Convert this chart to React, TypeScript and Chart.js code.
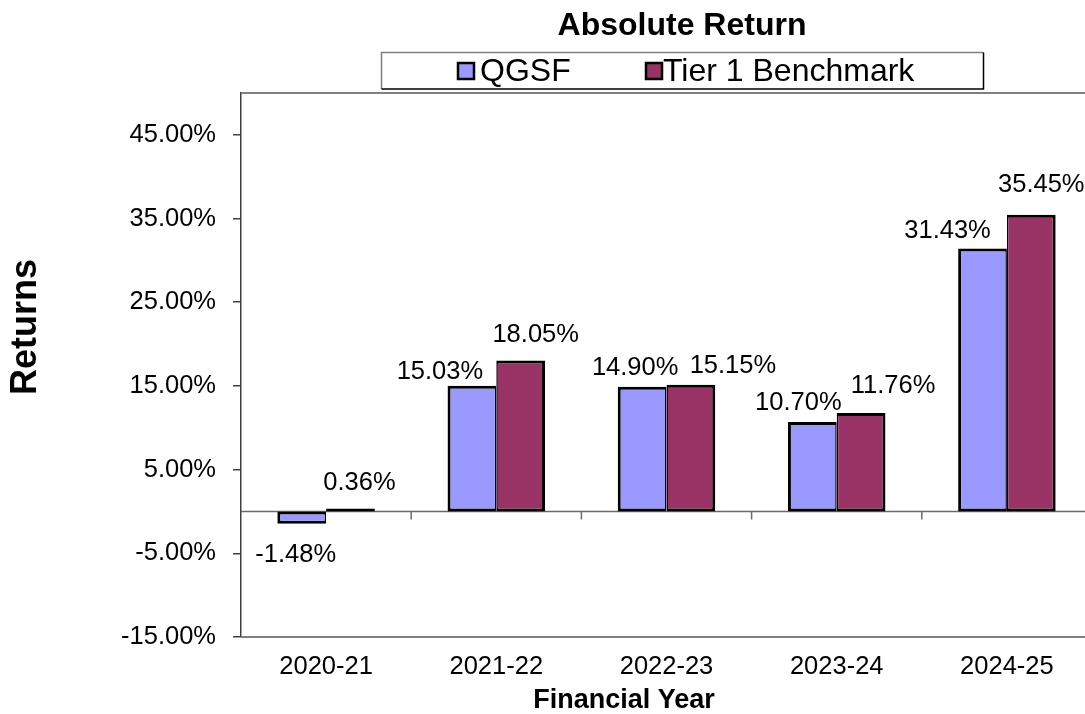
import React, { useEffect, useRef } from "react";
import { Chart, registerables } from "chart.js";

Chart.register(...registerables);

// ---- data ----
const categories = ["2020-21", "2021-22", "2022-23", "2023-24", "2024-25"];
const qgsfValues = [-1.48, 15.03, 14.9, 10.7, 31.43];
const tier1Values = [0.36, 18.05, 15.15, 11.76, 35.45];
const seriesNames = ["QGSF", "Tier 1 Benchmark"];
const yTickValues = [-15, -5, 5, 15, 25, 35, 45];
const chartTitle = "Absolute Return";
const yAxisTitle = "Returns";
const xAxisTitle = "Financial Year";

// ---- styling / layout ----
const FONT = "'Liberation Sans', Arial, Helvetica, sans-serif";
const COLORS = ["#9999FF", "#993366"];
// manual label nudges (dx from bar centre, gap from bar end to baseline)
const LABEL_NUDGE: number[][][] = [
  [[-6, 38], [-32, 7], [-7, 12], [-14, 12], [-35, 10]],
  [[9, 18], [15, 18], [42, 12], [32, 20], [10, 23]],
];

const overlay = {
  id: "overlay",
  beforeDatasetsDraw(chart: any) {
    const { ctx, chartArea, scales } = chart;
    const y0 = scales.y.getPixelForValue(0);
    ctx.save();
    // plot area border (top / right / bottom)
    ctx.strokeStyle = "#808080";
    ctx.lineWidth = 2;
    ctx.beginPath();
    ctx.moveTo(chartArea.left, chartArea.top);
    ctx.lineTo(chartArea.right, chartArea.top);
    ctx.lineTo(chartArea.right, chartArea.bottom);
    ctx.lineTo(chartArea.left, chartArea.bottom);
    ctx.stroke();
    // zero line with category boundary ticks
    ctx.strokeStyle = "#6a6a6a";
    ctx.lineWidth = 1.5;
    ctx.beginPath();
    ctx.moveTo(chartArea.left, y0);
    ctx.lineTo(chartArea.right, y0);
    const xs = scales.x;
    for (let i = 0; i < categories.length; i++) {
      const next =
        i < categories.length - 1
          ? (xs.getPixelForValue(i) + xs.getPixelForValue(i + 1)) / 2
          : chartArea.right;
      ctx.moveTo(next, y0);
      ctx.lineTo(next, y0 + 8);
    }
    ctx.stroke();
    ctx.restore();
  },
  afterDraw(chart: any) {
    const { ctx } = chart;
    ctx.save();
    ctx.fillStyle = "#000";

    // title
    ctx.font = `bold 32px ${FONT}`;
    ctx.textAlign = "center";
    ctx.textBaseline = "alphabetic";
    ctx.fillText(chartTitle, 682, 35);

    // legend box
    ctx.lineWidth = 1.5;
    ctx.strokeStyle = "#808080";
    ctx.beginPath();
    ctx.moveTo(381.5, 89);
    ctx.lineTo(381.5, 52.5);
    ctx.lineTo(983.5, 52.5);
    ctx.stroke();
    ctx.strokeStyle = "#000";
    ctx.beginPath();
    ctx.moveTo(983.5, 52.5);
    ctx.lineTo(983.5, 89);
    ctx.lineTo(381.5, 89);
    ctx.stroke();

    const legendItems = [
      { sx: 458, tx: 480 },
      { sx: 646, tx: 663 },
    ];
    ctx.font = `32px ${FONT}`;
    ctx.textAlign = "left";
    legendItems.forEach((it, i) => {
      ctx.fillStyle = COLORS[i];
      ctx.fillRect(it.sx, 63, 16, 16);
      ctx.strokeStyle = "#000";
      ctx.lineWidth = 2.5;
      ctx.strokeRect(it.sx, 63, 16, 16);
      ctx.fillStyle = "#000";
      ctx.fillText(seriesNames[i], it.tx, 80.5);
    });

    // y axis title
    ctx.save();
    ctx.font = `bold 36px ${FONT}`;
    ctx.translate(36, 327);
    ctx.rotate(-Math.PI / 2);
    ctx.textAlign = "center";
    ctx.fillText(yAxisTitle, 0, 0);
    ctx.restore();

    // x axis title
    ctx.font = `bold 27px ${FONT}`;
    ctx.textAlign = "center";
    ctx.fillText(xAxisTitle, 624, 708);

    // data labels
    ctx.font = `25.5px ${FONT}`;
    ctx.textAlign = "center";
    ctx.fillStyle = "#000";
    chart.data.datasets.forEach((ds: any, d: number) => {
      const meta = chart.getDatasetMeta(d);
      meta.data.forEach((bar: any, i: number) => {
        const v = ds.data[i];
        const [dx, gap] = LABEL_NUDGE[d][i];
        const y = v >= 0 ? bar.y - gap : bar.y + gap;
        ctx.fillText(v.toFixed(2) + "%", bar.x + dx, y);
      });
    });
    ctx.restore();
  },
};

export default function App() {
  const canvasRef = useRef<HTMLCanvasElement | null>(null);

  useEffect(() => {
    const canvas = canvasRef.current;
    if (!canvas) return;
    const chart = new Chart(canvas, {
      type: "bar",
      data: {
        labels: categories,
        datasets: [
          {
            label: seriesNames[0],
            data: qgsfValues,
            backgroundColor: COLORS[0],
            borderColor: "#000",
            borderWidth: { top: 3, left: 3, bottom: 3, right: 1.5 },
            borderSkipped: false,
            categoryPercentage: 0.573,
            barPercentage: 1,
          },
          {
            label: seriesNames[1],
            data: tier1Values,
            backgroundColor: COLORS[1],
            borderColor: "#000",
            borderWidth: { top: 3, left: 1.5, bottom: 3, right: 3 },
            borderSkipped: false,
            categoryPercentage: 0.573,
            barPercentage: 1,
          },
        ],
      },
      options: {
        responsive: false,
        animation: false,
        layout: { padding: { top: 93, right: 8, left: 0, bottom: 0 } },
        plugins: {
          legend: { display: false },
          title: { display: false },
          tooltip: { enabled: false },
        },
        scales: {
          x: {
            grid: { display: false, drawTicks: false },
            border: { display: false },
            ticks: {
              color: "#000",
              font: { family: FONT, size: 25.5 },
              padding: 15,
              maxRotation: 0,
            },
            afterFit: (s: any) => {
              s.height = 77;
            },
          },
          y: {
            min: -15,
            max: 50,
            afterBuildTicks: (s: any) => {
              s.ticks = yTickValues.map((v) => ({ value: v }));
            },
            afterFit: (s: any) => {
              s.width = 241;
            },
            grid: {
              display: true,
              drawOnChartArea: false,
              drawTicks: true,
              tickLength: 8,
              color: "#404040",
              lineWidth: 1.5,
            },
            border: { display: true, color: "#404040", width: 1.5 },
            ticks: {
              color: "#000",
              font: { family: FONT, size: 25.5 },
              padding: 17,
              callback: (v: any) => Number(v).toFixed(2) + "%",
            },
          },
        },
      },
      plugins: [overlay],
    });
    return () => chart.destroy();
  }, []);

  return (
    <div
      style={{
        position: "fixed",
        left: 0,
        top: 0,
        width: 1085,
        height: 714,
        overflow: "hidden",
        background: "#fff",
      }}
    >
      <canvas
        ref={canvasRef}
        width={1100}
        height={714}
        style={{ display: "block", width: 1100, height: 714 }}
      />
    </div>
  );
}
